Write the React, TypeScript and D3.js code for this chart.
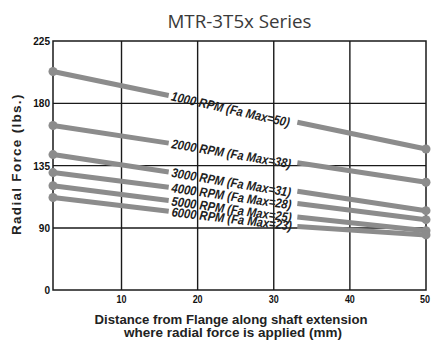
import * as d3 from "d3";

const SERIES_LABELS = [
  "1000 RPM (Fa Max=50)",
  "2000 RPM (Fa Max=38)",
  "3000 RPM (Fa Max=31)",
  "4000 RPM (Fa Max=28)",
  "5000 RPM (Fa Max=25)",
  "6000 RPM (Fa Max=23)",
];
const START_VALUES = [203, 164, 143, 130, 120.5, 112];
const END_VALUES = [147, 123, 102.5, 96, 86, 80];
const DISTANCE_RANGE = [1, 50];
const LABEL_GAP = [16.2, 33.1];
const X_TICKS = [10, 20, 30, 40, 50];
const Y_TICKS = [0, 90, 135, 180, 225];

const W = 431, H = 341;
const M = { top: 41, right: 5, bottom: 51, left: 53 };
const GRID = "#1a1a1a";
const LINE = "#8c8c8c";
// no condensed face installed, so squeeze Liberation Sans Bold with textLength
const HEAVY = "'Liberation Sans', Arial, sans-serif";

export default function App() {
  const x = d3.scaleLinear().domain(DISTANCE_RANGE).range([M.left, W - M.right]);
  // the printed axis squeezes 0..90 into the same space as 45 units above it
  const y = d3.scaleLinear().domain([0, 90, 225]).range([H - M.bottom, 228, M.top]);
  const x0 = x(DISTANCE_RANGE[0]), x1 = x(DISTANCE_RANGE[1]);

  const series = SERIES_LABELS.map((label, i) => {
    const v = d3.scaleLinear().domain(DISTANCE_RANGE).range([START_VALUES[i], END_VALUES[i]]);
    const px0 = x(DISTANCE_RANGE[0]), py0 = y(START_VALUES[i]);
    const px1 = x(DISTANCE_RANGE[1]), py1 = y(END_VALUES[i]);
    const angle = (Math.atan2(py1 - py0, px1 - px0) * 180) / Math.PI;
    return { label, v, px0, py0, px1, py1, angle };
  });

  return (
    <svg width={W} height={H} style={{ position: "absolute", left: 0, top: 0, background: "#fff" }}>
      <text x={(x0 + x1) / 2} y={28} textAnchor="middle" fontFamily="'Open Sans', sans-serif"
        fontSize={18} fill="#3a3a3a" textLength={144} lengthAdjust="spacingAndGlyphs">MTR-3T5x Series</text>

      {/* grid */}
      {X_TICKS.slice(0, -1).map((t) => (
        <line key={"vx" + t} x1={x(t)} x2={x(t)} y1={y(225)} y2={y(0)} stroke={GRID} strokeWidth={1.4} />
      ))}
      {Y_TICKS.slice(1, -1).map((t) => (
        <line key={"hy" + t} x1={x0} x2={x1} y1={y(t)} y2={y(t)} stroke={GRID} strokeWidth={1.4} />
      ))}
      <rect x={x0} y={y(225)} width={x1 - x0} height={y(0) - y(225)} fill="none" stroke={GRID} strokeWidth={1.5} />

      {/* tick labels */}
      {Y_TICKS.map((t) => (
        <text key={"yl" + t} x={x0 - 3} y={y(t)} dy="0.35em" textAnchor="end" fontFamily={HEAVY}
          fontWeight="bold" fontSize={11} fill="#111" textLength={String(t).length * 5.6}
          lengthAdjust="spacingAndGlyphs">{t}</text>
      ))}
      {X_TICKS.map((t) => (
        <text key={"xl" + t} x={Math.min(x(t), W - 6)} y={y(0) + 13} textAnchor="middle" fontFamily={HEAVY}
          fontWeight="bold" fontSize={11} fill="#111" textLength={10}
          lengthAdjust="spacingAndGlyphs">{t}</text>
      ))}

      {/* series */}
      {series.map((s, i) => (
        <g key={i}>
          <line x1={s.px0} y1={s.py0} x2={x(LABEL_GAP[0])} y2={y(s.v(LABEL_GAP[0]))}
            stroke={LINE} strokeWidth={5} />
          <line x1={x(LABEL_GAP[1])} y1={y(s.v(LABEL_GAP[1]))} x2={s.px1} y2={s.py1}
            stroke={LINE} strokeWidth={5} />
          <circle cx={s.px0} cy={s.py0} r={4.5} fill={LINE} />
          <circle cx={s.px1} cy={s.py1} r={4.5} fill={LINE} />
          <text transform={`translate(${x(LABEL_GAP[0]) + 3},${y(s.v(LABEL_GAP[0]))}) rotate(${s.angle + 1})`}
            dy="0.38em" fontFamily={HEAVY} fontWeight="bold" fontStyle="italic" fontSize={13}
            fill="#222" textLength={121} lengthAdjust="spacingAndGlyphs">{s.label}</text>
        </g>
      ))}

      {/* axis titles */}
      <text transform={`translate(21,164) rotate(-90)`} textAnchor="middle"
        fontFamily={HEAVY} fontWeight="bold" fontSize={13.5} letterSpacing={1.6} fill="#222"
        textLength={142} lengthAdjust="spacing">Radial Force (lbs.)</text>
      <text x={231} y={324} textAnchor="middle" fontFamily={HEAVY} fontWeight="bold"
        fontSize={13} fill="#222" textLength={273}
        lengthAdjust="spacingAndGlyphs">Distance from Flange along shaft extension</text>
      <text x={233} y={336.5} textAnchor="middle" fontFamily={HEAVY} fontWeight="bold"
        fontSize={13} fill="#222" textLength={218}
        lengthAdjust="spacingAndGlyphs">where radial force is applied (mm)</text>
    </svg>
  );
}
